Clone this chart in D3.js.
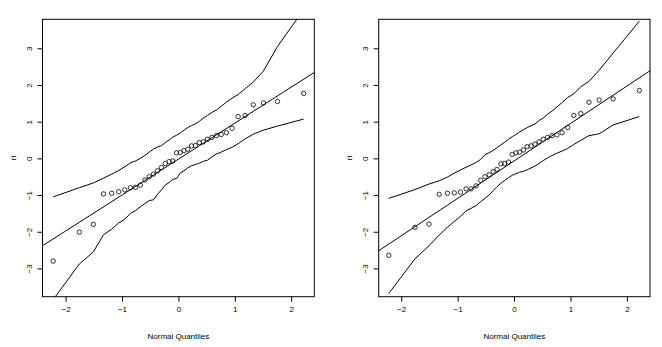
<!DOCTYPE html>
<meta charset="utf-8">
<style>
  body { margin: 0; background: #fff; }
  svg { font-family: "Liberation Sans", Arial, sans-serif; }
  .env { fill: none; stroke: #000; stroke-width: 1px; }
  .ref { fill: none; stroke: #000; stroke-width: 1px; }
  .pt { fill: none; stroke: #000; stroke-width: 0.8px; }
  .frame { fill: none; stroke: #000; stroke-width: 1px; }
  .axis text { font-size: 8px; fill: #000; }
  .axis line { stroke: #000; }
</style>
<body>
<script src="https://d3js.org/d3.v7.min.js"></script>
<script>

// theoretical normal quantiles (x positions)
var quantiles = [-2.221, -1.757, -1.508, -1.328, -1.183, -1.059, -0.951, -0.851, -0.760, -0.674,
  -0.593, -0.516, -0.443, -0.371, -0.301, -0.233, -0.166, -0.099, -0.033,
  0.033, 0.099, 0.166, 0.233, 0.301, 0.371, 0.443, 0.516, 0.593, 0.674,
  0.760, 0.851, 0.951, 1.059, 1.183, 1.328, 1.508, 1.757, 2.221];

// left panel
var residLeft = [-2.80, -2.01, -1.80, -0.97, -0.95, -0.91, -0.86, -0.80, -0.79, -0.73,
  -0.59, -0.50, -0.43, -0.34, -0.25, -0.14, -0.09, -0.07, 0.15,
  0.16, 0.21, 0.25, 0.34, 0.35, 0.43, 0.45, 0.52, 0.57, 0.62,
  0.65, 0.70, 0.82, 1.14, 1.17, 1.46, 1.51, 1.55, 1.77];
var upperLeft = [-1.05, -0.80, -0.67, -0.54, -0.43, -0.33, -0.23, -0.12, -0.07, 0.00,
  0.08, 0.17, 0.25, 0.31, 0.35, 0.43, 0.50, 0.58, 0.63,
  0.69, 0.77, 0.84, 0.89, 0.94, 1.01, 1.10, 1.17, 1.25, 1.32,
  1.42, 1.53, 1.64, 1.74, 1.90, 2.08, 2.38, 3.05, 4.05];
var lowerLeft = [-3.85, -2.88, -2.55, -2.08, -1.93, -1.76, -1.66, -1.50, -1.42, -1.32,
  -1.23, -1.15, -1.13, -0.98, -0.86, -0.73, -0.66, -0.57, -0.55,
  -0.40, -0.34, -0.26, -0.20, -0.17, -0.13, -0.08, -0.05, 0.04, 0.12,
  0.17, 0.24, 0.30, 0.40, 0.53, 0.66, 0.77, 0.88, 1.07];
var lineLeft = {intercept: -0.02, slope: 0.98};

// right panel
var residRight = [-2.64, -1.88, -1.79, -0.98, -0.95, -0.94, -0.92, -0.83, -0.83, -0.75,
  -0.60, -0.50, -0.45, -0.36, -0.30, -0.15, -0.14, -0.10, 0.11,
  0.15, 0.17, 0.23, 0.32, 0.34, 0.39, 0.45, 0.52, 0.57, 0.62,
  0.64, 0.70, 0.84, 1.17, 1.22, 1.53, 1.59, 1.62, 1.85];
var upperRight = [-1.09, -0.85, -0.70, -0.61, -0.51, -0.40, -0.32, -0.24, -0.18, -0.11,
  -0.03, 0.10, 0.15, 0.22, 0.29, 0.37, 0.44, 0.52, 0.59,
  0.65, 0.72, 0.78, 0.84, 0.89, 0.94, 1.03, 1.10, 1.20, 1.29,
  1.40, 1.52, 1.66, 1.76, 1.95, 2.10, 2.40, 2.87, 3.74];
var lowerRight = [-3.68, -2.74, -2.38, -2.09, -1.88, -1.72, -1.58, -1.43, -1.36, -1.29,
  -1.18, -1.09, -1.00, -0.88, -0.77, -0.68, -0.60, -0.53, -0.46,
  -0.42, -0.38, -0.35, -0.31, -0.26, -0.21, -0.14, -0.06, 0.01, 0.08,
  0.14, 0.20, 0.27, 0.38, 0.49, 0.62, 0.67, 0.91, 1.14];
var lineRight = {intercept: -0.07, slope: 1.02};

var xTicks = [-2, -1, 0, 1, 2];
var yTicks = [-3, -2, -1, 0, 1, 2, 3];
var xLabel = "Normal Quantiles";
var yLabel = "ri";

var svg = d3.select("body").append("svg")
    .attr("width", 662)
    .attr("height", 347);

function fmt(d) { return d < 0 ? "\u2212" + Math.abs(d) : "" + d; }

function drawPanel(id, left, right, xDom, resid, upper, lower, line) {
  var top = 19.3, bottom = 296.7;
  var x = d3.scaleLinear().domain(xDom).range([left, right]);
  var y = d3.scaleLinear().domain([-3.77, 3.79]).range([bottom, top]);

  svg.append("clipPath").attr("id", id)
    .append("rect")
      .attr("x", left).attr("y", top)
      .attr("width", right - left).attr("height", bottom - top);

  var g = svg.append("g").attr("clip-path", "url(#" + id + ")");

  // reference line across the whole plot region
  g.append("path")
      .attr("class", "ref")
      .attr("d", d3.line()([
        [x(xDom[0]), y(line.intercept + line.slope * xDom[0])],
        [x(xDom[1]), y(line.intercept + line.slope * xDom[1])]
      ]));

  var env = d3.line()
      .x(function(d) { return x(d[0]); })
      .y(function(d) { return y(d[1]); });

  g.append("path").attr("class", "env")
      .attr("d", env(quantiles.map(function(q, i) { return [q, upper[i]]; })));
  g.append("path").attr("class", "env")
      .attr("d", env(quantiles.map(function(q, i) { return [q, lower[i]]; })));

  g.selectAll("circle.pt")
    .data(quantiles.map(function(q, i) { return [q, resid[i]]; }))
    .enter().append("circle")
      .attr("class", "pt")
      .attr("cx", function(d) { return x(d[0]); })
      .attr("cy", function(d) { return y(d[1]); })
      .attr("r", 2.2);

  // axes
  var ax = svg.append("g")
      .attr("class", "axis")
      .attr("transform", "translate(0," + bottom + ")")
      .call(d3.axisBottom(x).tickValues(xTicks).tickFormat(fmt).tickSize(5).tickPadding(5).tickSizeOuter(0));
  ax.select(".domain").remove();

  var ay = svg.append("g")
      .attr("class", "axis")
      .attr("transform", "translate(" + left + ",0)")
      .call(d3.axisLeft(y).tickValues(yTicks).tickFormat(fmt).tickSize(5).tickSizeOuter(0));
  ay.select(".domain").remove();
  ay.selectAll("text")
      .attr("x", null).attr("dy", null)
      .attr("text-anchor", "middle")
      .attr("transform", "translate(-11,0) rotate(-90)");

  svg.append("rect")
      .attr("class", "frame")
      .attr("x", left).attr("y", top)
      .attr("width", right - left).attr("height", bottom - top);

  svg.append("text")
      .attr("x", (left + right) / 2)
      .attr("y", 339)
      .attr("text-anchor", "middle")
      .attr("font-size", "8px")
      .text(xLabel);

  svg.append("text")
      .attr("transform", "translate(" + (left - 27) + "," + ((top + bottom) / 2) + ") rotate(-90)")
      .attr("text-anchor", "middle")
      .attr("font-size", "8px")
      .text(yLabel);
}

drawPanel("clipL", 42.5, 314.3, [-2.41, 2.41], residLeft, upperLeft, lowerLeft, lineLeft);
drawPanel("clipR", 378.7, 650, [-2.40, 2.41], residRight, upperRight, lowerRight, lineRight);

</script>
</body>
